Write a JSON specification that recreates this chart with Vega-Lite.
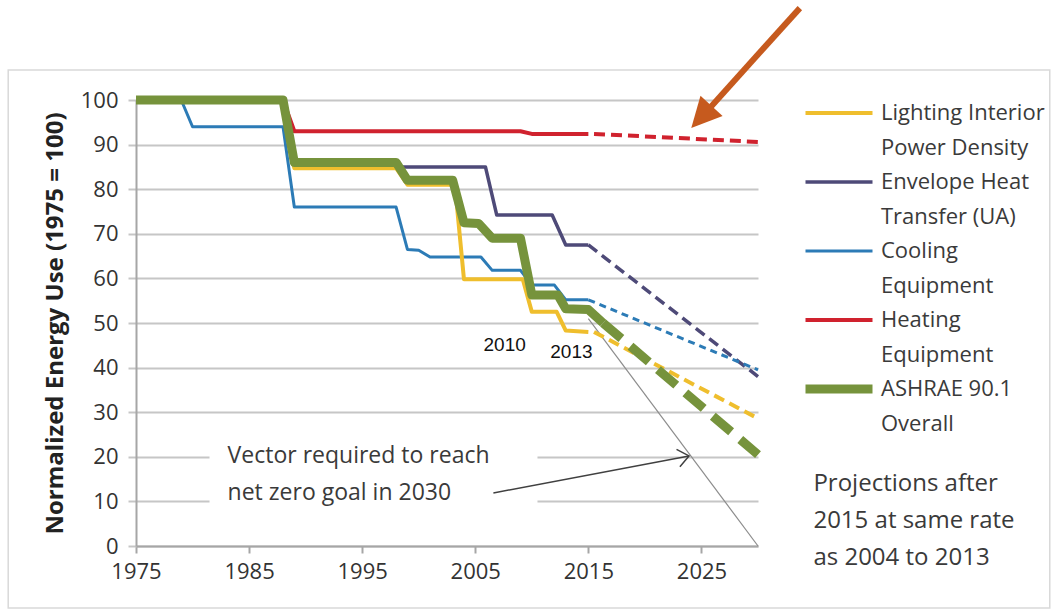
{
  "$schema": "https://vega.github.io/schema/vega-lite/v6.json",
  "width": 622,
  "height": 446,
  "autosize": {"type": "none"},
  "padding": {"left": 136, "top": 100, "right": 297, "bottom": 67},
  "background": "white",
  "config": {
    "font": "Open Sans",
    "view": {"stroke": null},
    "style": {"guide-label": {"lineHeight": 35}}
  },
  "datasets": {
    "lines": [
      {"series": "Heating Equipment", "part": "actual", "year": 1975, "value": 100},
      {"series": "Heating Equipment", "part": "actual", "year": 1988, "value": 100},
      {"series": "Heating Equipment", "part": "actual", "year": 1989, "value": 93},
      {"series": "Heating Equipment", "part": "actual", "year": 2009, "value": 93},
      {"series": "Heating Equipment", "part": "actual", "year": 2010, "value": 92.4},
      {"series": "Heating Equipment", "part": "actual", "year": 2015, "value": 92.4},
      {"series": "Heating Equipment", "part": "proj", "year": 2015.5, "value": 92.4},
      {"series": "Heating Equipment", "part": "proj", "year": 2030, "value": 90.6},
      {"series": "Cooling Equipment", "part": "actual", "year": 1975, "value": 100},
      {"series": "Cooling Equipment", "part": "actual", "year": 1979, "value": 100},
      {"series": "Cooling Equipment", "part": "actual", "year": 1980, "value": 94},
      {"series": "Cooling Equipment", "part": "actual", "year": 1988, "value": 94},
      {"series": "Cooling Equipment", "part": "actual", "year": 1989, "value": 76},
      {"series": "Cooling Equipment", "part": "actual", "year": 1998, "value": 76},
      {"series": "Cooling Equipment", "part": "actual", "year": 1999, "value": 66.5},
      {"series": "Cooling Equipment", "part": "actual", "year": 2000, "value": 66.3},
      {"series": "Cooling Equipment", "part": "actual", "year": 2001, "value": 64.8},
      {"series": "Cooling Equipment", "part": "actual", "year": 2005.5, "value": 64.8},
      {"series": "Cooling Equipment", "part": "actual", "year": 2006.5, "value": 61.8},
      {"series": "Cooling Equipment", "part": "actual", "year": 2009, "value": 61.8},
      {"series": "Cooling Equipment", "part": "actual", "year": 2010, "value": 58.5},
      {"series": "Cooling Equipment", "part": "actual", "year": 2012, "value": 58.5},
      {"series": "Cooling Equipment", "part": "actual", "year": 2013, "value": 55.2},
      {"series": "Cooling Equipment", "part": "actual", "year": 2015, "value": 55.2},
      {"series": "Cooling Equipment", "part": "proj", "year": 2015, "value": 55.2},
      {"series": "Cooling Equipment", "part": "proj", "year": 2030, "value": 39.5},
      {"series": "Envelope Heat Transfer (UA)", "part": "actual", "year": 1975, "value": 100},
      {"series": "Envelope Heat Transfer (UA)", "part": "actual", "year": 1988, "value": 100},
      {"series": "Envelope Heat Transfer (UA)", "part": "actual", "year": 1989, "value": 85},
      {"series": "Envelope Heat Transfer (UA)", "part": "actual", "year": 2005.9, "value": 85},
      {"series": "Envelope Heat Transfer (UA)", "part": "actual", "year": 2006.9, "value": 74.2},
      {"series": "Envelope Heat Transfer (UA)", "part": "actual", "year": 2011.8, "value": 74.2},
      {"series": "Envelope Heat Transfer (UA)", "part": "actual", "year": 2013, "value": 67.5},
      {"series": "Envelope Heat Transfer (UA)", "part": "actual", "year": 2015, "value": 67.5},
      {"series": "Envelope Heat Transfer (UA)", "part": "proj", "year": 2015, "value": 67.5},
      {"series": "Envelope Heat Transfer (UA)", "part": "proj", "year": 2030, "value": 38},
      {"series": "Lighting Interior Power Density", "part": "actual", "year": 1975, "value": 100},
      {"series": "Lighting Interior Power Density", "part": "actual", "year": 1988, "value": 100},
      {"series": "Lighting Interior Power Density", "part": "actual", "year": 1989, "value": 84.7},
      {"series": "Lighting Interior Power Density", "part": "actual", "year": 1998, "value": 84.7},
      {"series": "Lighting Interior Power Density", "part": "actual", "year": 1999, "value": 81},
      {"series": "Lighting Interior Power Density", "part": "actual", "year": 2003.2, "value": 81},
      {"series": "Lighting Interior Power Density", "part": "actual", "year": 2004, "value": 59.8},
      {"series": "Lighting Interior Power Density", "part": "actual", "year": 2009.2, "value": 59.8},
      {"series": "Lighting Interior Power Density", "part": "actual", "year": 2010, "value": 52.5},
      {"series": "Lighting Interior Power Density", "part": "actual", "year": 2012.2, "value": 52.5},
      {"series": "Lighting Interior Power Density", "part": "actual", "year": 2013, "value": 48.3},
      {"series": "Lighting Interior Power Density", "part": "actual", "year": 2015, "value": 48},
      {"series": "Lighting Interior Power Density", "part": "proj", "year": 2015.5, "value": 48},
      {"series": "Lighting Interior Power Density", "part": "proj", "year": 2030, "value": 28.6},
      {"series": "ASHRAE 90.1 Overall", "part": "actual", "year": 1975, "value": 100},
      {"series": "ASHRAE 90.1 Overall", "part": "actual", "year": 1988, "value": 100},
      {"series": "ASHRAE 90.1 Overall", "part": "actual", "year": 1989, "value": 86},
      {"series": "ASHRAE 90.1 Overall", "part": "actual", "year": 1998, "value": 86},
      {"series": "ASHRAE 90.1 Overall", "part": "actual", "year": 1999, "value": 82},
      {"series": "ASHRAE 90.1 Overall", "part": "actual", "year": 2003, "value": 82},
      {"series": "ASHRAE 90.1 Overall", "part": "actual", "year": 2004, "value": 72.5},
      {"series": "ASHRAE 90.1 Overall", "part": "actual", "year": 2005.3, "value": 72.3},
      {"series": "ASHRAE 90.1 Overall", "part": "actual", "year": 2006.5, "value": 69},
      {"series": "ASHRAE 90.1 Overall", "part": "actual", "year": 2009, "value": 69},
      {"series": "ASHRAE 90.1 Overall", "part": "actual", "year": 2010, "value": 56.3},
      {"series": "ASHRAE 90.1 Overall", "part": "actual", "year": 2012.3, "value": 56.3},
      {"series": "ASHRAE 90.1 Overall", "part": "actual", "year": 2013, "value": 53.2},
      {"series": "ASHRAE 90.1 Overall", "part": "actual", "year": 2015, "value": 53},
      {"series": "ASHRAE 90.1 Overall", "part": "actual", "year": 2016.3, "value": 50},
      {"series": "ASHRAE 90.1 Overall", "part": "proj", "year": 2016.3, "value": 50},
      {"series": "ASHRAE 90.1 Overall", "part": "proj", "year": 2030, "value": 20.5}
    ],
    "frame": [{"year": 1963.7, "year2": 2055.8, "value": 106.7, "value2": -13.9}],
    "mask": [{"year": 1981.5, "year2": 2010.5, "value": 4.5, "value2": 25}],
    "vector": [{"year": 2015, "value": 51}, {"year": 2030, "value": 0}],
    "pointer": [{"year": 2006.6, "value": 11.9}, {"year": 2023.9, "value": 20.2}],
    "pointerHead": [{"year": 2023.9, "value": 20.2}],
    "orange": [{"year": 2033.7, "value": 120.6}, {"year": 2025.8, "value": 98.4}],
    "orangeHead": [{"year": 2024.1, "value": 93.7}],
    "vectorText": [
      {"year": 1983.1, "value": 20.2, "label": "Vector required  to reach"},
      {"year": 1983.1, "value": 11.9, "label": "net zero  goal in 2030"}
    ],
    "yearText": [
      {"year": 2007.6, "value": 45.1, "label": "2010"},
      {"year": 2013.5, "value": 43.5, "label": "2013"}
    ],
    "projText": [
      {"year": 2034.9, "value": 13.9, "label": "Projections after"},
      {"year": 2034.9, "value": 5.6, "label": "2015 at same rate"},
      {"year": 2034.9, "value": -2.7, "label": "as 2004 to 2013"}
    ]
  },
  "encoding": {
    "x": {
      "field": "year",
      "type": "quantitative",
      "scale": {"domain": [1975, 2030], "nice": false, "zero": false},
      "axis": {
        "title": null,
        "values": [1975, 1985, 1995, 2005, 2015, 2025],
        "format": "d",
        "grid": false,
        "domainColor": "#A6A6A6",
        "domainWidth": 2,
        "tickColor": "#A6A6A6",
        "tickWidth": 2,
        "tickSize": 7,
        "labelFont": "Open Sans",
        "labelFontSize": 22,
        "labelColor": "#333333",
        "labelPadding": 8,
        "labelFlush": false
      }
    },
    "y": {
      "field": "value",
      "type": "quantitative",
      "scale": {"domain": [0, 100], "nice": false},
      "axis": {
        "title": "Normalized Energy Use (1975 = 100)",
        "titleFont": "Open Sans",
        "titleFontWeight": "bold",
        "titleFontSize": 24,
        "titleColor": "#222222",
        "titlePadding": 13,
        "values": [0, 10, 20, 30, 40, 50, 60, 70, 80, 90, 100],
        "grid": true,
        "gridColor": "#C6C6C6",
        "gridWidth": 2,
        "domainColor": "#A6A6A6",
        "domainWidth": 2,
        "tickColor": "#C6C6C6",
        "tickWidth": 2,
        "tickSize": 8,
        "labelFont": "Open Sans",
        "labelFontSize": 22,
        "labelColor": "#333333",
        "labelPadding": 10
      }
    }
  },
  "layer": [
    {
      "data": {"name": "frame"},
      "mark": {"type": "rect", "fill": null, "filled": false, "stroke": "#D9D9D9", "strokeWidth": 1.5},
      "encoding": {"x2": {"field": "year2"}, "y2": {"field": "value2"}}
    },
    {
      "data": {"name": "mask"},
      "mark": {"type": "rect", "color": "white"},
      "encoding": {"x2": {"field": "year2"}, "y2": {"field": "value2"}}
    },
    {
      "data": {"name": "vector"},
      "mark": {"type": "line", "color": "#8C8C8C", "strokeWidth": 1.2},
      "encoding": {}
    },
    {
      "data": {"name": "lines"},
      "transform": [{"filter": "datum.part == 'actual'"}],
      "mark": {"type": "line", "strokeJoin": "round", "strokeCap": "butt"},
      "encoding": {
        "color": {
          "field": "series",
          "type": "nominal",
          "scale": {
            "domain": ["Lighting Interior Power Density", "Envelope Heat Transfer (UA)", "Cooling Equipment", "Heating Equipment", "ASHRAE 90.1 Overall"],
            "range": ["#EFBE2D", "#4E4A78", "#2C7BB6", "#D0222E", "#76933C"]
          },
          "legend": {
            "title": null,
            "orient": "none",
            "legendX": 665,
            "legendY": -10,
            "direction": "vertical",
            "symbolType": "stroke",
            "symbolSize": 4489,
            "labelFont": "Open Sans",
            "labelFontSize": 22,
            "labelColor": "#3A3A3A",
            "labelBaseline": "middle",
            "labelOffset": 4,
            "labelLimit": 400,
            "rowPadding": 0,
            "clipHeight": 46,
            "labelExpr": "datum.label == 'Lighting Interior Power Density' ? ['Lighting Interior','Power Density'] : datum.label == 'Envelope Heat Transfer (UA)' ? ['Envelope Heat','Transfer (UA)'] : datum.label == 'Cooling Equipment' ? ['Cooling','Equipment'] : datum.label == 'Heating Equipment' ? ['Heating','Equipment'] : ['ASHRAE 90.1','Overall']"
          }
        },
        "strokeWidth": {
          "field": "series",
          "type": "nominal",
          "scale": {
            "type": "ordinal",
            "domain": ["Lighting Interior Power Density", "Envelope Heat Transfer (UA)", "Cooling Equipment", "Heating Equipment", "ASHRAE 90.1 Overall"],
            "range": [4, 3.5, 3, 4, 9]
          },
          "legend": {"title": null}
        }
      }
    },
    {
      "data": {"name": "lines"},
      "transform": [{"filter": "datum.part == 'proj' && (datum.series == 'Heating Equipment' || datum.series == 'Lighting Interior Power Density' || datum.series == 'Envelope Heat Transfer (UA)')"}],
      "mark": {"type": "line", "strokeCap": "butt", "strokeDash": [11, 6]},
      "encoding": {
        "color": {
          "field": "series",
          "type": "nominal",
          "scale": {
            "domain": ["Lighting Interior Power Density", "Envelope Heat Transfer (UA)", "Cooling Equipment", "Heating Equipment", "ASHRAE 90.1 Overall"],
            "range": ["#EFBE2D", "#4E4A78", "#2C7BB6", "#D0222E", "#76933C"]
          },
          "legend": null
        },
        "strokeWidth": {
          "field": "series",
          "type": "nominal",
          "scale": {
            "type": "ordinal",
            "domain": ["Lighting Interior Power Density", "Envelope Heat Transfer (UA)", "Cooling Equipment", "Heating Equipment", "ASHRAE 90.1 Overall"],
            "range": [4, 3.5, 3, 4, 9]
          },
          "legend": null
        }
      }
    },
    {
      "data": {"name": "lines"},
      "transform": [{"filter": "datum.part == 'proj' && datum.series == 'Cooling Equipment'"}],
      "mark": {"type": "line", "strokeCap": "butt", "strokeDash": [7, 5]},
      "encoding": {
        "color": {
          "field": "series",
          "type": "nominal",
          "scale": {
            "domain": ["Lighting Interior Power Density", "Envelope Heat Transfer (UA)", "Cooling Equipment", "Heating Equipment", "ASHRAE 90.1 Overall"],
            "range": ["#EFBE2D", "#4E4A78", "#2C7BB6", "#D0222E", "#76933C"]
          },
          "legend": null
        },
        "strokeWidth": {
          "field": "series",
          "type": "nominal",
          "scale": {
            "type": "ordinal",
            "domain": ["Lighting Interior Power Density", "Envelope Heat Transfer (UA)", "Cooling Equipment", "Heating Equipment", "ASHRAE 90.1 Overall"],
            "range": [4, 3.5, 3, 4, 9]
          },
          "legend": null
        }
      }
    },
    {
      "data": {"name": "lines"},
      "transform": [{"filter": "datum.part == 'proj' && datum.series == 'ASHRAE 90.1 Overall'"}],
      "mark": {"type": "line", "strokeCap": "butt", "strokeDash": [24, 12]},
      "encoding": {
        "color": {
          "field": "series",
          "type": "nominal",
          "scale": {
            "domain": ["Lighting Interior Power Density", "Envelope Heat Transfer (UA)", "Cooling Equipment", "Heating Equipment", "ASHRAE 90.1 Overall"],
            "range": ["#EFBE2D", "#4E4A78", "#2C7BB6", "#D0222E", "#76933C"]
          },
          "legend": null
        },
        "strokeWidth": {
          "field": "series",
          "type": "nominal",
          "scale": {
            "type": "ordinal",
            "domain": ["Lighting Interior Power Density", "Envelope Heat Transfer (UA)", "Cooling Equipment", "Heating Equipment", "ASHRAE 90.1 Overall"],
            "range": [4, 3.5, 3, 4, 9]
          },
          "legend": null
        }
      }
    },
    {
      "data": {"name": "pointer"},
      "mark": {"type": "line", "color": "#404040", "strokeWidth": 1.5},
      "encoding": {}
    },
    {
      "data": {"name": "pointerHead"},
      "mark": {"type": "point", "shape": "M-0.8,1L0,0L0.8,1", "filled": false, "stroke": "#404040", "strokeWidth": 1.5, "size": 484, "angle": 79, "opacity": 1},
      "encoding": {}
    },
    {
      "data": {"name": "orange"},
      "mark": {"type": "line", "color": "#C65A1E", "strokeWidth": 6},
      "encoding": {}
    },
    {
      "data": {"name": "orangeHead"},
      "mark": {"type": "point", "shape": "M0,0L0.5,1L-0.5,1Z", "filled": true, "color": "#C65A1E", "size": 3600, "angle": 222.5, "opacity": 1},
      "encoding": {}
    },
    {
      "data": {"name": "vectorText"},
      "mark": {"type": "text", "align": "left", "baseline": "middle", "font": "Open Sans", "fontSize": 23, "color": "#3A3A3A"},
      "encoding": {"text": {"field": "label"}}
    },
    {
      "data": {"name": "yearText"},
      "mark": {"type": "text", "align": "center", "baseline": "middle", "font": "Liberation Sans", "fontSize": 19, "color": "#111111"},
      "encoding": {"text": {"field": "label"}}
    },
    {
      "data": {"name": "projText"},
      "mark": {"type": "text", "align": "left", "baseline": "middle", "font": "Open Sans", "fontSize": 24, "color": "#3A3A3A"},
      "encoding": {"text": {"field": "label"}}
    }
  ]
}
